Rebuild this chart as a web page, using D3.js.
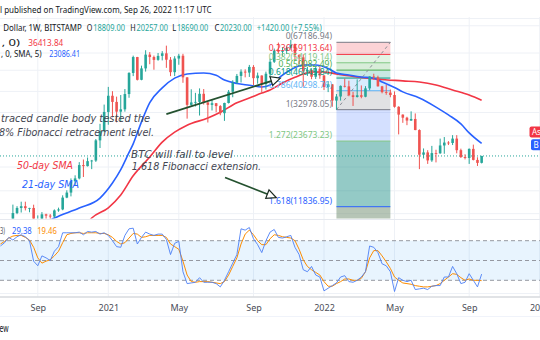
<!DOCTYPE html>
<html><head><meta charset="utf-8">
<script src="https://cdn.jsdelivr.net/npm/d3@7"></script>
<style>body{margin:0;background:#fff}svg{display:block}</style>
</head><body><svg id="c" width="540" height="340"></svg>
<script>
// ---------- DATA ----------
const weekStart = "2020-07-06"; // first weekly candle (Mondays)
const open  = [9070,9300,9160,9930,11070,11680,11900,11660,11680,10250,10330,10920,10770,10670,11380,11500,13030,13740,15480,15960,18370,18170,19150,19270,23850,26300,32200,38200,35800,32300,33100,38900,48600,57500,45200,51000,59000,57500,55800,58200,59800,55900,49000,56600,58300,46400,34700,35600,35800,39000,35600,34700,35300,34250,31780,35400,39850,43800,47100,49300,48800,51800,46000,47300,43200,48200,54700,61500,60900,61300,63300,65500,58700,57300,49400,50100,46700,50800,47300,41900,43100,36300,37900,42400,42200,38400,37700,38400,37800,41300,46800,46400,42200,39700,39500,38500,34000,31300,30300,29400,29900,26600,20500,21000,19300,20850,20800,22600,23300,23200,24300,21500,20000,19800,21800,19400,18809];
const high  = [9450,9345,10000,12100,11900,12480,12480,11700,12090,10800,11180,10990,10950,11500,11720,13350,14080,15960,16490,18950,19480,19900,19400,24200,28400,34800,41950,40100,37850,38500,41000,49000,58350,57600,52500,61800,60600,58400,60000,61200,64850,57500,58000,59500,59500,46500,40900,39400,41300,41000,35750,36600,35400,34600,35500,40600,45000,48100,50500,50500,52900,52800,48800,47400,49300,56500,62900,67000,63700,64300,69000,66300,59300,59200,51900,50400,51900,52100,47600,44500,43200,38900,42600,45800,44800,39800,45400,42600,42300,46900,48200,47200,42400,42900,40800,40000,34200,31400,30600,32400,31700,26800,21900,21500,22500,21600,24300,24700,23650,25200,25200,21850,20600,21900,22800,19950,20257];
const low   = [9050,9000,9120,9900,10940,11130,11380,11160,9880,9880,10260,10140,10380,10530,11220,11400,12950,13200,14840,15800,16200,18100,17600,19000,22000,26000,28130,30420,28850,29160,32300,37400,47000,44900,45000,49300,53300,50300,55300,55500,51300,47000,47000,53000,43800,30000,34000,34100,31000,34800,28800,32700,32100,31100,29300,35200,37600,43400,43950,46400,46600,42800,43400,39600,40800,46900,54000,59600,58000,59400,62300,55600,53300,42000,47100,45500,45600,45700,40600,39700,34000,32950,36300,41700,38000,34300,37500,37200,37600,40500,45200,42100,39200,38600,37600,33700,25400,28700,28000,29300,26550,17600,19700,18600,19000,18900,20700,20700,22700,22700,20800,19800,19500,18600,19300,18200,18690];
const close = [9300,9160,9930,11070,11680,11900,11660,11680,10250,10330,10920,10770,10670,11380,11500,13030,13740,15480,15960,18370,18170,19150,19270,23850,26300,32200,38200,35800,32300,33100,38900,48600,57500,45200,51000,59000,57500,55800,58200,59800,55900,49000,56600,58300,46400,34700,35600,35800,39000,35600,34700,35300,34250,31780,35400,39850,43800,47100,49300,48800,51800,46000,47300,43200,48200,54700,61500,60900,61300,63300,65500,58700,57300,49400,50100,46700,50800,47300,41900,43100,36300,37900,42400,42200,38400,37700,38400,37800,41300,46800,46400,42200,39700,39500,38500,34000,31300,30300,29400,29900,26600,20500,21000,19300,20850,20800,22600,23300,23200,24300,21500,20000,19800,21800,19400,18800,20230];

// 21-week SMA (blue) and 50-week SMA (red)
const sma21Dates  = ["2020-09-14","2020-10-05","2020-11-16","2020-12-21","2021-01-11","2021-01-25","2021-02-08","2021-02-15","2021-03-01","2021-03-15","2021-04-05","2021-04-26","2021-05-17","2021-06-14","2021-07-05","2021-07-19","2021-08-09","2021-08-30","2021-09-20","2021-10-04","2021-10-18","2021-11-08","2021-11-29","2021-12-20","2022-01-10","2022-01-24","2022-02-14","2022-03-07","2022-03-28","2022-04-11","2022-05-02","2022-05-16","2022-06-13","2022-07-11","2022-08-01","2022-08-22","2022-09-05","2022-09-26"];
const sma21Values = [9800,10500,11670,12970,15200,17500,21000,23000,29000,35500,41500,46000,48100,48600,47400,45100,43500,42700,41900,42800,46000,50300,52900,52900,51000,48600,47550,46600,46000,44200,41700,39800,37300,33900,31200,28400,25800,23086.41];
const sma50Dates  = ["2020-11-30","2020-12-07","2021-01-04","2021-01-25","2021-02-15","2021-03-15","2021-04-05","2021-04-26","2021-05-17","2021-06-21","2021-07-12","2021-08-09","2021-08-30","2021-09-20","2021-10-04","2021-10-25","2021-11-15","2021-12-13","2022-01-03","2022-01-24","2022-02-28","2022-04-04","2022-05-16","2022-06-13","2022-07-11","2022-08-08","2022-09-05","2022-09-26"];
const sma50Values = [10000,10500,11700,13400,16400,20000,23400,26000,28000,30200,32100,35500,37300,39300,40600,43700,46400,49100,49100,48100,46600,45500,44700,44200,42800,40600,38500,36413.84];

// Stochastic RSI (weekly), K (blue) and D (orange)
const stochK = [72,77,85,81,86,89,86,80,49,42,57,54,50,64,71,92,92,92,92,93,89,94,93,94,90,92,88,80,71,70,88,98,99,75,85,93,90,88,90,90,82,59,76,79,33,15,16,17,24,17,17,17,15,10,20,33,46,59,98,96,100,83,74,62,80,93,97,85,84,86,88,70,59,36,33,41,28,25,4,8,12,16,25,27,18,17,20,25,33,72,70,62,45,42,33,3,24,20,18,20,6,7,8,6,11,12,12,25,25,41,30,15,17,30,20,10,29.38];
const stochD = [75,79,84,87,88,88,85,81,70,54,46,49,51,57,64,77,89,91,92,92,91,92,92,92,91,91,89,85,79,75,77,84,91,90,85,86,88,88,88,88,85,75,71,67,49,28,18,17,18,18,18,17,16,15,18,28,41,54,75,90,96,89,80,74,74,83,89,88,86,85,84,80,67,51,41,36,32,28,18,11,11,15,18,22,22,20,20,23,33,54,65,65,57,48,38,25,20,16,15,14,12,11,10,10,11,12,15,20,25,30,29,24,20,22,20,20,19.46];

// Fibonacci levels (as labelled on the chart)
const fibLevels = ["0","0.236","0.382","0.5","0.618","0.786","1","1.272","1.618"];
const fibPrices = [67186.94,59113.64,54119.14,50082.49,46045.84,40298.76,32978.05,23673.23,11836.95];
const fibStart = "2022-01-24", fibEnd = "2022-04-25";

// axis ticks
const tickDates  = ["2020-09-07","2021-01-04","2021-05-03","2021-09-06","2022-01-03","2022-05-02","2022-09-05","2023-01-02"];
const tickLabels = ["Sep","2021","May","Sep","2022","May","Sep","2023"];
const gridPrices = [80000,60000,50000,40000,32000,25000,18000,14000,11000];

// ---------- CHART ----------
const svg = d3.select("#c");
const parse = d3.utcParse("%Y-%m-%d");
const t0 = parse(weekStart);
const dates = close.map((_, i) => d3.utcDay.offset(t0, 7 * i));

const x = d3.scaleUtc().domain([parse("2021-01-04"), parse("2022-01-03")]).range([108.3, 324]);
const y = d3.scaleLog().domain([11836.95, 67186.94]).range([206.7, 42.3]);
const yS = d3.scaleLinear().domain([0, 100]).range([293.5, 227.5]);
const MAIN_TOP = 17, MAIN_BOT = 218.5, ST_TOP = 220, ST_BOT = 296.5;
const FONT = "'Noto Sans', 'Open Sans', sans-serif";
const UP = "#26a69a", DOWN = "#ef5350";

svg.append("rect").attr("width", 540).attr("height", 340).attr("fill", "#fff");
const defs = svg.append("defs");
defs.append("clipPath").attr("id", "cm").append("rect").attr("x", 0).attr("y", MAIN_TOP).attr("width", 540).attr("height", MAIN_BOT - MAIN_TOP);
defs.append("clipPath").attr("id", "cs").append("rect").attr("x", 0).attr("y", ST_TOP).attr("width", 540).attr("height", ST_BOT - ST_TOP);

// grid
const grid = svg.append("g");
grid.selectAll(".vg").data(tickDates).join("line")
  .attr("x1", d => x(parse(d))).attr("x2", d => x(parse(d)))
  .attr("y1", MAIN_TOP).attr("y2", ST_BOT).attr("stroke", "#eef1f6").attr("stroke-width", 1);
grid.selectAll(".hg").data(gridPrices).join("line")
  .attr("x1", 0).attr("x2", 540).attr("y1", d => y(d)).attr("y2", d => y(d))
  .attr("stroke", "#eef1f6").attr("stroke-width", 1).attr("clip-path", "url(#cm)");
svg.append("line").attr("x1", 0).attr("x2", 540).attr("y1", 18.5).attr("y2", 18.5).attr("stroke", "#eef1f6");

// main pane
const main = svg.append("g").attr("clip-path", "url(#cm)");

// Fibonacci box
const fx0 = x(parse(fibStart)), fx1 = x(parse(fibEnd));
const bandFills = ["rgba(242,54,69,0.22)","rgba(129,199,132,0.22)","rgba(76,175,80,0.22)","rgba(8,153,129,0.22)","rgba(100,181,246,0.25)","rgba(120,123,134,0.22)","rgba(41,98,255,0.2)","rgba(0,128,120,0.42)","rgba(110,140,110,0.5)"];
const lineCols = ["#787b86","#f23645","#81c784","#4caf50","#089981","#64b5f6","#787b86","#81c784","#2962ff"];
const bandEdges = fibPrices.map(p => y(p)).concat([MAIN_BOT + 2]);
main.selectAll(".fb").data(fibPrices).join("rect")
  .attr("x", fx0).attr("width", fx1 - fx0)
  .attr("y", (d, i) => bandEdges[i]).attr("height", (d, i) => bandEdges[i + 1] - bandEdges[i])
  .attr("fill", (d, i) => bandFills[i]);
main.selectAll(".fl").data(fibPrices).join("line")
  .attr("x1", fx0).attr("x2", fx1).attr("y1", d => y(d)).attr("y2", d => y(d))
  .attr("stroke", (d, i) => lineCols[i]).attr("stroke-width", 1);
main.append("line").attr("x1", fx0).attr("y1", y(fibPrices[6])).attr("x2", fx1).attr("y2", y(fibPrices[0]))
  .attr("stroke", "#8a8d96").attr("stroke-width", 1).attr("stroke-dasharray", "3,3");

// current price line
main.append("line").attr("x1", 0).attr("x2", 540).attr("y1", y(close[close.length - 1])).attr("y2", y(close[close.length - 1]))
  .attr("stroke", UP).attr("stroke-width", 1).attr("stroke-dasharray", "1,2");

// SMAs
const lineP = d3.line().x(d => x(d[0])).y(d => y(d[1])).curve(d3.curveMonotoneX);
main.append("path").datum(sma50Dates.map((d, i) => [parse(d), sma50Values[i]]))
  .attr("d", lineP).attr("fill", "none").attr("stroke", "#f23645").attr("stroke-width", 1.6);
main.append("path").datum(sma21Dates.map((d, i) => [parse(d), sma21Values[i]]))
  .attr("d", lineP).attr("fill", "none").attr("stroke", "#2962ff").attr("stroke-width", 1.6);

// candles
const bw = 2.6;
const cg = main.append("g");
cg.selectAll(".w").data(dates).join("line")
  .attr("x1", d => x(d)).attr("x2", d => x(d))
  .attr("y1", (d, i) => y(high[i])).attr("y2", (d, i) => y(low[i]))
  .attr("stroke", (d, i) => close[i] >= open[i] ? UP : DOWN).attr("stroke-width", 1);
cg.selectAll(".b").data(dates).join("rect")
  .attr("x", d => x(d) - bw / 2).attr("width", bw)
  .attr("y", (d, i) => y(Math.max(open[i], close[i])))
  .attr("height", (d, i) => Math.max(0.8, Math.abs(y(open[i]) - y(close[i]))))
  .attr("fill", (d, i) => close[i] >= open[i] ? UP : DOWN);

// Fib labels
main.selectAll(".ft").data(fibPrices).join("text")
  .attr("x", fx0 - 4.5).attr("y", d => y(d) - 3).attr("text-anchor", "end")
  .attr("font-family", FONT).attr("font-size", 8.5).attr("fill", (d, i) => lineCols[i])
  .text((d, i) => fibLevels[i] + "(" + d3.format(".2f")(d) + ")");

// arrows (annotations)
const arrowCol = "#24512f";
function arrow(d0, p0, d1, p1) {
  const xa = x(parse(d0)), ya = y(p0), xb = x(parse(d1)), yb = y(p1);
  main.append("line").attr("x1", xa).attr("y1", ya).attr("x2", xb).attr("y2", yb)
    .attr("stroke", arrowCol).attr("stroke-width", 1.8);
  const ang = Math.atan2(yb - ya, xb - xa), L = 8, Wd = 4.5;
  const bx = xb - L * Math.cos(ang), by = yb - L * Math.sin(ang);
  const px = -Math.sin(ang) * Wd, py = Math.cos(ang) * Wd;
  main.append("path").attr("d", `M${xb + 1.5 * Math.cos(ang)},${yb + 1.5 * Math.sin(ang)}L${bx + px},${by + py}L${bx - px},${by - py}Z`)
    .attr("fill", "#fff").attr("stroke", "#1c2b22").attr("stroke-width", 1.2);
}
arrow("2021-04-12", 31500, "2021-10-19", 45780);
arrow("2021-07-20", 16110, "2021-10-12", 13110);

// annotation texts
const notes = [
  {t: "traced candle body tested the", x: 1, y: 122, w: 149, c: "#434651"},
  {t: "8% Fibonacci retracement level.", x: -1, y: 135.5, w: 155, c: "#434651"},
  {t: "50-day SMA", x: 17, y: 169, w: 56, c: "#f23645"},
  {t: "21-day SMA", x: 22, y: 188, w: 57, c: "#2962ff"},
  {t: "BTC will fall to level", x: 131, y: 158, w: 102, c: "#434651"},
  {t: "1.618 Fibonacci extension.", x: 131.7, y: 170, w: 129.5, c: "#434651"}
];
svg.selectAll(".note").data(notes).join("text")
  .attr("x", d => d.x).attr("y", d => d.y).attr("fill", d => d.c)
  .attr("font-family", "'DejaVu Sans', sans-serif").attr("font-style", "italic").attr("font-size", 11)
  .attr("textLength", d => d.w).attr("lengthAdjust", "spacingAndGlyphs").text(d => d.t);

// right-edge tags
svg.append("rect").attr("x", 529.5).attr("y", 126.5).attr("width", 14).attr("height", 11).attr("rx", 2).attr("fill", "#f23645");
svg.append("text").attr("x", 532).attr("y", 134.8).attr("fill", "#fff").attr("font-family", FONT).attr("font-size", 8).text("As");
svg.append("rect").attr("x", 531).attr("y", 139.3).attr("width", 14).attr("height", 11).attr("rx", 2).attr("fill", "#2962ff");
svg.append("text").attr("x", 533.5).attr("y", 147.6).attr("fill", "#fff").attr("font-family", FONT).attr("font-size", 8).text("B");

// pane separator
svg.append("line").attr("x1", 0).attr("x2", 540).attr("y1", 219.5).attr("y2", 219.5).attr("stroke", "#e6e9ef");

// stoch pane
const st = svg.append("g").attr("clip-path", "url(#cs)");
st.append("rect").attr("x", 0).attr("width", 540).attr("y", yS(80)).attr("height", yS(20) - yS(80)).attr("fill", "rgba(33,150,243,0.1)");
st.selectAll(".sl").data([80, 50, 20]).join("line")
  .attr("x1", 0).attr("x2", 540).attr("y1", d => yS(d)).attr("y2", d => yS(d))
  .attr("stroke", "#9598a1").attr("stroke-width", 1).attr("stroke-dasharray", "4,3");
st.append("line").attr("x1", 0).attr("x2", 540).attr("y1", yS(0)).attr("y2", yS(0)).attr("stroke", "#eef1f6");
const lineS = d3.line().x((d, i) => x(dates[i])).y(d => yS(d));
st.append("path").datum(stochD).attr("d", lineS).attr("fill", "none").attr("stroke", "#fb8c00").attr("stroke-width", 1);
st.append("path").datum(stochK).attr("d", lineS).attr("fill", "none").attr("stroke", "#4c7ff5").attr("stroke-width", 1).attr("stroke-opacity", 0.9);

// x axis
svg.append("line").attr("x1", 0).attr("x2", 540).attr("y1", ST_BOT + 0.5).attr("y2", ST_BOT + 0.5).attr("stroke", "#c4c7ce").attr("stroke-width", 1.2);
const axis = d3.axisBottom(x).tickValues(tickDates.map(parse)).tickFormat((d, i) => tickLabels[i]).tickSize(0).tickPadding(0);
const ax = svg.append("g").attr("transform", `translate(0,${ST_BOT})`).call(axis);
ax.select(".domain").remove();
ax.selectAll("text").attr("dy", 0).attr("y", 14.5).attr("font-family", FONT).attr("font-size", 9).attr("fill", "#4a4d57");
svg.append("line").attr("x1", 0).attr("x2", 540).attr("y1", 316.5).attr("y2", 316.5).attr("stroke", "#f0f3fa");

// header / legends
function seg(t, x0, yb, col, w, size) {
  const e = svg.append("text").attr("x", x0).attr("y", yb).attr("fill", col)
    .attr("font-family", FONT).attr("font-size", size || 9).text(t);
  if (w) e.attr("textLength", w).attr("lengthAdjust", "spacingAndGlyphs");
}
const DARK = "#131722";
seg("l published on TradingView.com, Sep 26, 2022 11:17 UTC", 0, 13.3, DARK, 211.7, 9.5);
seg("Dollar, 1W, BITSTAMP", 3.3, 31.3, DARK, 78.4);
seg("O", 86.8, 31.3, DARK, 5.6, 8.5); seg(d3.format(".2f")(open[open.length - 1]), 93.3, 31.3, UP, 31.7);
seg("H", 130.2, 31.3, DARK, 5.4, 8.5); seg(d3.format(".2f")(high[high.length - 1]), 136.5, 31.3, UP, 31.5);
seg("L", 172.2, 31.3, DARK, 4, 8.5); seg(d3.format(".2f")(low[low.length - 1]), 176.9, 31.3, UP, 31.3);
seg("C", 214.4, 31.3, DARK, 5, 8.5); seg(d3.format(".2f")(close[close.length - 1]), 220, 31.3, UP, 31.7);
seg("+1420.00 (+7.55%)", 256.7, 31.3, UP, 65);
seg(", 0)", 1.7, 45.5, DARK, 18.3);
seg(d3.format(".2f")(sma50Values[sma50Values.length - 1]), 28.3, 45.5, "#f23645", 35);
seg(", 0, SMA, 5)", 1, 56.8, DARK, 40.7);
seg(d3.format(".2f")(sma21Values[sma21Values.length - 1]), 49.3, 56.8, "#2962ff", 30.7);
seg("3)", 0, 233.5, "#50535e", 5);
seg(d3.format(".2f")(stochK[stochK.length - 1]), 12, 233.5, "#2962ff", 19.7);
seg(d3.format(".2f")(stochD[stochD.length - 1]), 37.2, 233.5, "#fb8c00", 19.6);
seg("ew", -0.5, 332, DARK, 9, 10);
</script></body></html>
